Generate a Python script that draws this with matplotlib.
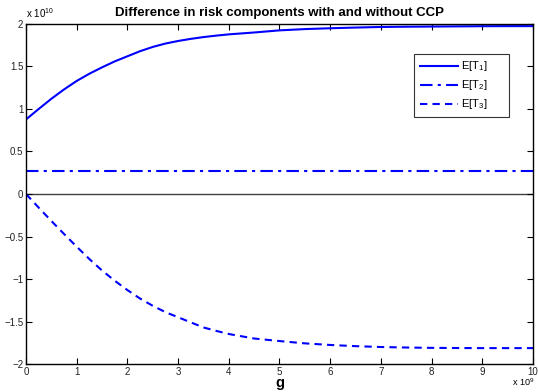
import matplotlib
matplotlib.use('Agg')
import matplotlib.pyplot as plt

plt.rcParams['font.family'] = ['Liberation Sans', 'DejaVu Sans']
plt.rcParams['mathtext.fontset'] = 'custom'
plt.rcParams['mathtext.rm'] = 'Liberation Sans'
plt.rcParams['mathtext.default'] = 'regular'

# g in units of 1e9, risk differences in units of 1e10
g = [0, 0.25, 0.5, 0.75, 1, 1.25, 1.5, 1.75, 2, 2.25, 2.5, 2.75, 3, 3.25, 3.5, 3.75, 4,
     4.5, 5, 5.5, 6, 6.5, 7, 7.5, 8, 8.5, 9, 9.5, 10]
t1 = [0.877, 1.00, 1.12, 1.23, 1.33, 1.415, 1.49, 1.56, 1.62, 1.68, 1.73, 1.77, 1.80,
      1.825, 1.846, 1.863, 1.878, 1.90, 1.925, 1.94, 1.95, 1.958, 1.965, 1.968, 1.97,
      1.972, 1.974, 1.975, 1.975]
t2 = [0.27] * len(g)
t3 = [0.0, -0.16, -0.317, -0.47, -0.62, -0.765, -0.90, -1.02, -1.13, -1.23, -1.315,
      -1.39, -1.45, -1.51, -1.57, -1.61, -1.647, -1.70, -1.73, -1.757, -1.776, -1.79,
      -1.80, -1.806, -1.81, -1.812, -1.813, -1.813, -1.813]
labels = ['E[T$_1$]', 'E[T$_2$]', 'E[T$_3$]']

fig = plt.figure(figsize=(5.38, 3.92), dpi=100)
ax = fig.add_axes([0.0483, 0.0714, 0.9424, 0.8674])

ax.axhline(0, color='#404040', lw=1.0, zorder=1)
pad = '      '
ax.plot(g, t1, color='blue', lw=1.5, ls='-', label=labels[0] + pad)
ax.plot(g, t2, color='blue', lw=1.5, ls=(0, (6, 2.5, 1.5, 2.5)), label=labels[1] + pad)
ax.plot(g, t3, color='blue', lw=1.5, ls=(0, (3.5, 2.5)), label=labels[2] + pad)

ax.set_xlim(0, 10)
ax.set_ylim(-2, 2)
ax.set_xticks(range(0, 11))
ax.set_yticks([-2, -1.5, -1, -0.5, 0, 0.5, 1, 1.5, 2])
ax.set_yticklabels(['\u22122', '\u22121.5', '\u22121', '\u22120.5', '0', '0.5', '1', '1.5', '2'])
ax.tick_params(direction='in', length=4, width=0.8, labelsize=7, top=True, right=True,
               colors='black', labelcolor='#222222')
ax.tick_params(axis='x', pad=2)
ax.tick_params(axis='y', pad=2)
for s in ax.spines.values():
    s.set_linewidth(1.0)

ax.set_title('Difference in risk components with and without CCP', fontsize=9.5,
             fontweight='bold', pad=6)
ax.set_xlabel('g', fontsize=10.5, fontweight='bold')
ax.xaxis.set_label_coords(0.5, -0.068)
ax.xaxis.label.set_va('baseline')
ax.text(0.0, 1.012, 'x 10$^{10}$', transform=ax.transAxes, fontsize=7, ha='left', va='bottom')
ax.text(1.003, -0.066, 'x 10$^{9}$', transform=ax.transAxes, fontsize=6.5, ha='right',
        va='baseline')

leg = ax.legend(loc='upper right', bbox_to_anchor=(0.953, 0.912), fontsize=8, frameon=True,
                fancybox=False, edgecolor='black', handlelength=3.4, handletextpad=0.3,
                labelspacing=0.45, borderpad=0.5, borderaxespad=0)
leg.get_frame().set_linewidth(0.8)

fig.savefig('out.png', dpi=100)
